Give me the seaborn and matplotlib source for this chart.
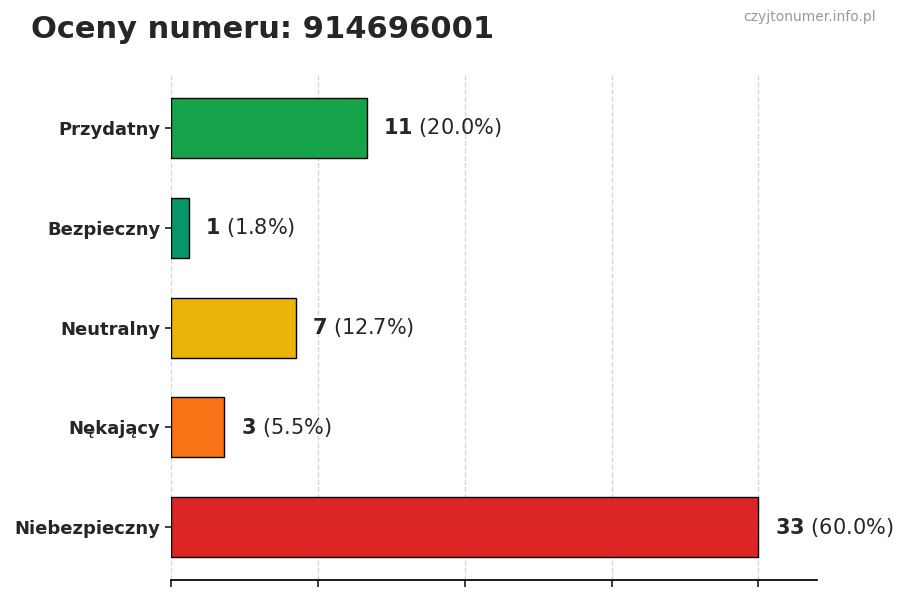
import matplotlib
matplotlib.use("Agg")
import matplotlib.pyplot as plt
import seaborn as sns
import pandas as pd

categories = ["Przydatny", "Bezpieczny", "Neutralny", "Nękający", "Niebezpieczny"]
counts = [11, 1, 7, 3, 33]
percents = [20.0, 1.8, 12.7, 5.5, 60.0]
colors = ["#16a34a", "#059669", "#eab308", "#f97316", "#dc2626"]

sns.set_theme(style="white")
plt.rcParams["font.family"] = ["DejaVu Sans"]

df = pd.DataFrame({"cat": categories, "n": counts})
fig = plt.figure(figsize=(9, 6), dpi=100)
ax = fig.add_axes([0.19, 0.033, 0.718, 0.842])
sns.barplot(data=df, y="cat", x="n", hue="cat", palette=colors, orient="h",
            width=0.6, edgecolor="black", linewidth=1, saturation=1, legend=False, ax=ax)

top = max(counts)
ax.set_xlim(0, top * 1.1)
ax.set_ylim(4.53, -0.53)
ax.set_xticks([top * i / 4 for i in range(5)])
ax.set_xticklabels([])
ax.tick_params(axis="x", length=5, bottom=True)
ax.tick_params(axis="y", length=4, left=True, labelsize=13)
for lab in ax.get_yticklabels():
    lab.set_fontweight("bold")
ax.set_xlabel("")
ax.set_ylabel("")
ax.grid(axis="x", linestyle="--", color="#cccccc", alpha=0.8)
for s in ["top", "right", "left"]:
    ax.spines[s].set_visible(False)
ax.spines["bottom"].set_color("black")

for i, (n, p) in enumerate(zip(counts, percents)):
    ax.annotate(f"$\\bf{{{n}}}$ ({p:.1f}%)", (n, i), xytext=(12, 0),
                textcoords="offset points", va="center", fontsize=15)

fig.text(0.034, 0.95, "Oceny numeru: 914696001", fontsize=22, fontweight="bold", va="center")
fig.text(0.973, 0.972, "czyjtonumer.info.pl", fontsize=10, color="#999999", ha="right", va="center")
fig.savefig("out.png", dpi=100)
